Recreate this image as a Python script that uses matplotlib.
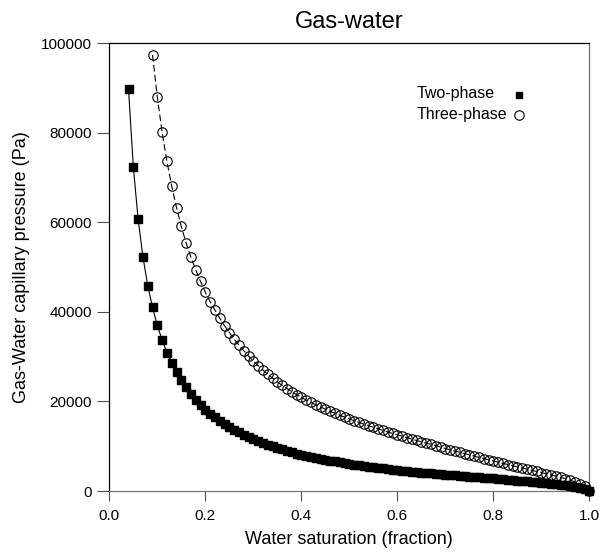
import matplotlib
matplotlib.use("Agg")
import matplotlib.pyplot as plt

plt.rcParams["font.family"] = ["Liberation Sans", "DejaVu Sans"]

# water saturation (fraction) and capillary pressure (Pa)
sw_two = [
    0.04, 0.05, 0.06, 0.07, 0.08, 0.09, 0.10, 0.11, 0.12, 0.13,
    0.14, 0.15, 0.16, 0.17, 0.18, 0.19, 0.20, 0.21, 0.22, 0.23,
    0.24, 0.25, 0.26, 0.27, 0.28, 0.29, 0.30, 0.31, 0.32, 0.33,
    0.34, 0.35, 0.36, 0.37, 0.38, 0.39, 0.40, 0.41, 0.42, 0.43,
    0.44, 0.45, 0.46, 0.47, 0.48, 0.49, 0.50, 0.51, 0.52, 0.53,
    0.54, 0.55, 0.56, 0.57, 0.58, 0.59, 0.60, 0.61, 0.62, 0.63,
    0.64, 0.65, 0.66, 0.67, 0.68, 0.69, 0.70, 0.71, 0.72, 0.73,
    0.74, 0.75, 0.76, 0.77, 0.78, 0.79, 0.80, 0.81, 0.82, 0.83,
    0.84, 0.85, 0.86, 0.87, 0.88, 0.89, 0.90, 0.91, 0.92, 0.93,
    0.94, 0.95, 0.96, 0.97, 0.98, 0.99, 1.00,
]
pc_two = [
    89700, 72400, 60700, 52300, 45900, 41000, 37000, 33700, 30900, 28600,
    26600, 24800, 23200, 21700, 20400, 19200, 18100, 17280, 16450, 15650,
    14950, 14300, 13710, 13130, 12600, 12100, 11640, 11180, 10760, 10350,
    9970, 9620, 9280, 8960, 8660, 8370, 8100, 7850, 7620, 7400,
    7180, 6980, 6790, 6600, 6420, 6250, 6080, 5920, 5760, 5610,
    5460, 5320, 5180, 5050, 4920, 4800, 4680, 4560, 4450, 4340,
    4230, 4130, 4030, 3930, 3830, 3740, 3650, 3560, 3470, 3380,
    3290, 3200, 3120, 3040, 2960, 2890, 2810, 2720, 2630, 2530,
    2440, 2340, 2250, 2150, 2050, 1940, 1840, 1730, 1620, 1510,
    1390, 1250, 1110, 940, 750, 530, 0,
]

sw_three = [
    0.09, 0.10, 0.11, 0.12, 0.13, 0.14, 0.15, 0.16, 0.17, 0.18,
    0.19, 0.20, 0.21, 0.22, 0.23, 0.24, 0.25, 0.26, 0.27, 0.28,
    0.29, 0.30, 0.31, 0.32, 0.33, 0.34, 0.35, 0.36, 0.37, 0.38,
    0.39, 0.40, 0.41, 0.42, 0.43, 0.44, 0.45, 0.46, 0.47, 0.48,
    0.49, 0.50, 0.51, 0.52, 0.53, 0.54, 0.55, 0.56, 0.57, 0.58,
    0.59, 0.60, 0.61, 0.62, 0.63, 0.64, 0.65, 0.66, 0.67, 0.68,
    0.69, 0.70, 0.71, 0.72, 0.73, 0.74, 0.75, 0.76, 0.77, 0.78,
    0.79, 0.80, 0.81, 0.82, 0.83, 0.84, 0.85, 0.86, 0.87, 0.88,
    0.89, 0.90, 0.91, 0.92, 0.93, 0.94, 0.95, 0.96, 0.97, 0.98,
    0.99, 1.00,
]
pc_three = [
    97400, 88000, 80100, 73600, 68100, 63300, 59100, 55400, 52200, 49400,
    46800, 44400, 42300, 40400, 38600, 36900, 35400, 33900, 32600, 31330,
    30130, 29040, 27990, 27000, 26080, 25210, 24390, 23610, 22880, 22190,
    21530, 20900, 20330, 19780, 19260, 18760, 18280, 17810, 17360, 16920,
    16500, 16100, 15700, 15320, 14940, 14590, 14240, 13880, 13520, 13180,
    12860, 12540, 12220, 11910, 11590, 11290, 10990, 10690, 10400, 10120,
    9830, 9490, 9200, 8910, 8630, 8350, 8070, 7790, 7520, 7250,
    6980, 6710, 6440, 6170, 5910, 5650, 5380, 5130, 4880, 4620,
    4360, 4110, 3850, 3600, 3330, 3050, 2750, 2420, 2050, 1620,
    1070, 0,
]

x_ticks = [0.0, 0.2, 0.4, 0.6, 0.8, 1.0]
x_tick_labels = ["0.0", "0.2", "0.4", "0.6", "0.8", "1.0"]
y_ticks = [0, 20000, 40000, 60000, 80000, 100000]
y_tick_labels = ["0", "20000", "40000", "60000", "80000", "100000"]

fig = plt.figure(figsize=(5.99, 5.53), dpi=100)
ax = fig.add_axes([0.1825, 0.1121, 0.8015, 0.8096])

ax.plot(sw_two, pc_two, color="black", lw=0.8, zorder=2, clip_on=False)
ax.plot(sw_two, pc_two, ls="none", marker="s", ms=6.0, mfc="black",
        mec="black", zorder=3, clip_on=False)
ax.plot(sw_three, pc_three, color="black", lw=0.8, ls=(0, (6, 3)),
        zorder=2, clip_on=False)
ax.plot(sw_three, pc_three, ls="none", marker="o", ms=6.8, mfc="none",
        mec="black", mew=0.8, zorder=3, clip_on=False)

ax.set_xlim(0, 1)
ax.set_ylim(0, 100000)
ax.set_xticks(x_ticks)
ax.set_xticklabels(x_tick_labels)
ax.set_yticks(y_ticks)
ax.set_yticklabels(y_tick_labels)
ax.tick_params(axis="x", direction="out", length=7, width=0.8,
               colors="0.3", labelcolor="black", labelsize=11, pad=6)
ax.tick_params(axis="y", direction="out", length=8.5, width=0.8,
               colors="0.3", labelcolor="black", labelsize=11, pad=4)

for side in ["left", "top"]:
    ax.spines[side].set_color("black")
    ax.spines[side].set_linewidth(0.9)
for side in ["right", "bottom"]:
    ax.spines[side].set_color("0.45")
    ax.spines[side].set_linewidth(0.9)

ax.set_xlabel("Water saturation (fraction)", fontsize=13, labelpad=6)
ax.set_ylabel("Gas-Water capillary pressure (Pa)", fontsize=13, labelpad=8)
ax.set_title("Gas-water", fontsize=17, pad=11)

# key: labels left aligned, symbols lined up on the right
ax.text(0.640, 0.877, "Two-phase", transform=ax.transAxes, fontsize=11.5,
        ha="left", va="baseline")
ax.text(0.640, 0.831, "Three-phase", transform=ax.transAxes, fontsize=11.5,
        ha="left", va="baseline")
ax.plot([0.853], [0.885], transform=ax.transAxes, ls="none", marker="s",
        ms=4.6, mfc="black", mec="black", clip_on=False)
ax.plot([0.853], [0.840], transform=ax.transAxes, ls="none", marker="o",
        ms=6.8, mfc="none", mec="black", mew=0.8, clip_on=False)

fig.savefig("out.png", dpi=100)
